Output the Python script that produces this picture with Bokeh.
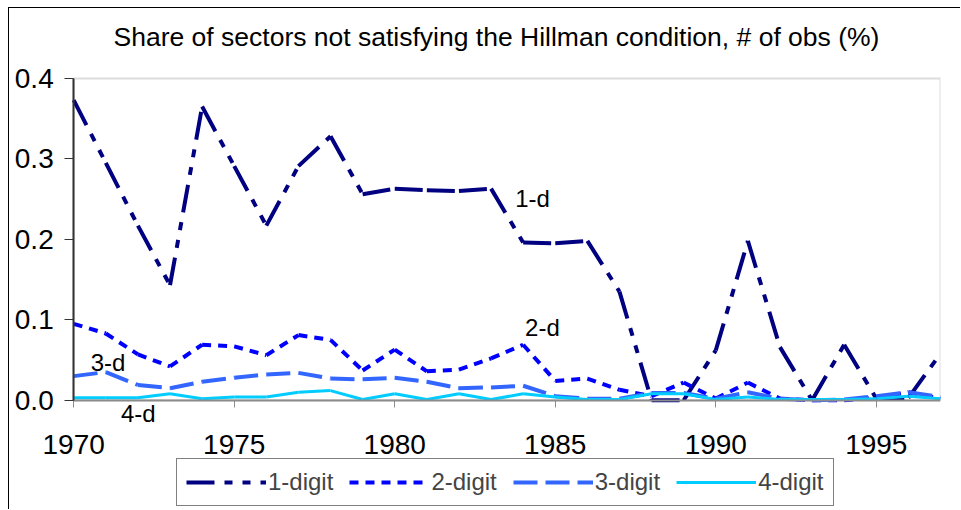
from bokeh.plotting import figure
from bokeh.models import (ColumnDataSource, Legend, LegendItem, Label, FixedTicker,
                          PrintfTickFormatter, Range1d, BoxAnnotation)
from bokeh.embed import file_html
from bokeh.resources import INLINE

# ---- data ----
years = [1970, 1971, 1972, 1973, 1974, 1975, 1976, 1977, 1978, 1979,
         1980, 1981, 1982, 1983, 1984, 1985, 1986, 1987, 1988, 1989,
         1990, 1991, 1992, 1993, 1994, 1995, 1996, 1997]
one_digit = [0.373, 0.295, 0.217, 0.143, 0.365, 0.291, 0.217, 0.291, 0.328, 0.256,
             0.263, 0.261, 0.260, 0.263, 0.196, 0.195, 0.198, 0.135, 0.000, 0.000,
             0.062, 0.198, 0.066, 0.000, 0.069, 0.002, 0.003, 0.058]
two_digit = [0.095, 0.083, 0.057, 0.042, 0.069, 0.067, 0.056, 0.081, 0.075, 0.037,
             0.063, 0.036, 0.038, 0.052, 0.069, 0.024, 0.027, 0.013, 0.005, 0.022,
             0.002, 0.022, 0.002, 0.000, 0.000, 0.003, 0.010, 0.002]
three_digit = [0.030, 0.035, 0.019, 0.015, 0.023, 0.028, 0.032, 0.034, 0.027, 0.026,
               0.028, 0.023, 0.015, 0.016, 0.018, 0.005, 0.002, 0.002, 0.009, 0.009,
               0.002, 0.010, 0.002, 0.000, 0.001, 0.005, 0.010, 0.004]
four_digit = [0.003, 0.003, 0.003, 0.008, 0.002, 0.004, 0.004, 0.010, 0.012, 0.001,
              0.008, 0.001, 0.008, 0.001, 0.008, 0.004, 0.001, 0.001, 0.008, 0.008,
              0.001, 0.004, 0.001, 0.001, 0.001, 0.002, 0.005, 0.002]
series_names = ["1-digit", "2-digit", "3-digit", "4-digit"]
series_short = ["1-d", "2-d", "3-d", "4-d"]
x_ticks = [1970, 1975, 1980, 1985, 1990, 1995]
y_ticks = [0.0, 0.1, 0.2, 0.3, 0.4]
title_text = "Share of sectors not satisfying the Hillman condition, # of obs (%)"

FONT = "Liberation Sans"

# The frame is padded on the left, top and bottom so that the axis labels, the legend and
# the "4-d" note are not clipped; both axes are pinned at the data origin.
p = figure(width=952, height=502, output_backend="svg", toolbar_location=None,
           x_range=Range1d(1968.0, years[-1]), y_range=Range1d(-0.137, 0.4185),
           min_border_left=0, min_border_right=21, min_border_top=52,
           min_border_bottom=0)
p.styles = {"border-left": "1px solid black", "border-top": "1px solid black",
            "margin-left": "8px", "margin-top": "7px"}

p.title.text = title_text
p.title.align = "left"
p.title.offset = 104
p.title.text_font = FONT
p.title.text_font_size = "26.5px"
p.title.text_font_style = "normal"
p.title.text_color = "black"
p.title.standoff = 23

p.xgrid.visible = False
p.ygrid.visible = False
p.outline_line_color = None

# plot-area border (top and right gray lines)
p.add_layout(BoxAnnotation(left=years[0], right=years[-1], bottom=y_ticks[0], top=y_ticks[-1],
                           fill_alpha=0, line_color="#8c8c8c", line_width=2, level="underlay"))

# axes
p.xaxis.ticker = FixedTicker(ticks=x_ticks)
p.xaxis.fixed_location = y_ticks[0]
p.xaxis.bounds = (years[0], years[-1])
p.yaxis.ticker = FixedTicker(ticks=y_ticks)
p.yaxis.fixed_location = years[0]
p.yaxis.bounds = (y_ticks[0], y_ticks[-1])
p.yaxis.formatter = PrintfTickFormatter(format="%.1f")
for ax in (p.xaxis[0], p.yaxis[0]):
    ax.minor_tick_line_color = None
    ax.major_label_text_font = FONT
    ax.major_label_text_font_size = "28px"
    ax.major_label_text_color = "black"
    ax.major_tick_in = 0
p.xaxis.axis_line_color = "#8c8c8c"
p.xaxis.axis_line_width = 2
p.xaxis.major_tick_line_color = "#8c8c8c"
p.xaxis.major_tick_out = 7
p.xaxis.major_label_standoff = 28
p.yaxis.axis_line_color = "#333333"
p.yaxis.axis_line_width = 2
p.yaxis.major_tick_line_color = "#333333"
p.yaxis.major_tick_out = 9
p.yaxis.major_label_standoff = 11

# series drawn as per-interval segments so the dash pattern restarts at each point
values = [one_digit, two_digit, three_digit, four_digit]
colors = ["#000080", "#0000FF", "#3366FF", "#00CCFF"]
dashes = ["28 10 8 10 8 10", "9 7", "24 8", "solid"]
widths = [4, 4, 4, 3]
items = []
for name, vals, c, d, w in zip(series_names, values, colors, dashes, widths):
    src = ColumnDataSource(dict(x0=years[:-1], x1=years[1:], y0=vals[:-1], y1=vals[1:]))
    r = p.segment(x0="x0", y0="y0", x1="x1", y1="y1", source=src,
                  line_color=c, line_width=w, line_dash=d)
    items.append(LegendItem(label=name, renderers=[r]))

legend = Legend(items=items, orientation="horizontal", location=(167, 4),
                label_text_font=FONT, label_text_font_size="24px",
                glyph_width=80, glyph_height=20, label_standoff=2, spacing=16,
                padding=9, margin=0, border_line_color="black", border_line_width=1,
                background_fill_color="white", background_fill_alpha=1.0)
p.add_layout(legend)

# in-plot series labels
label_pos = [(1983.75, 0.251), (1984.06, 0.091), (1970.53, 0.047), (1971.47, -0.017)]
for txt, (lx, ly) in zip(series_short, label_pos):
    p.add_layout(Label(x=lx, y=ly, text=txt, text_font=FONT, text_font_size="24px",
                       text_baseline="middle", text_align="left", text_color="black"))

open("out.html", "w").write(file_html(p, INLINE))
